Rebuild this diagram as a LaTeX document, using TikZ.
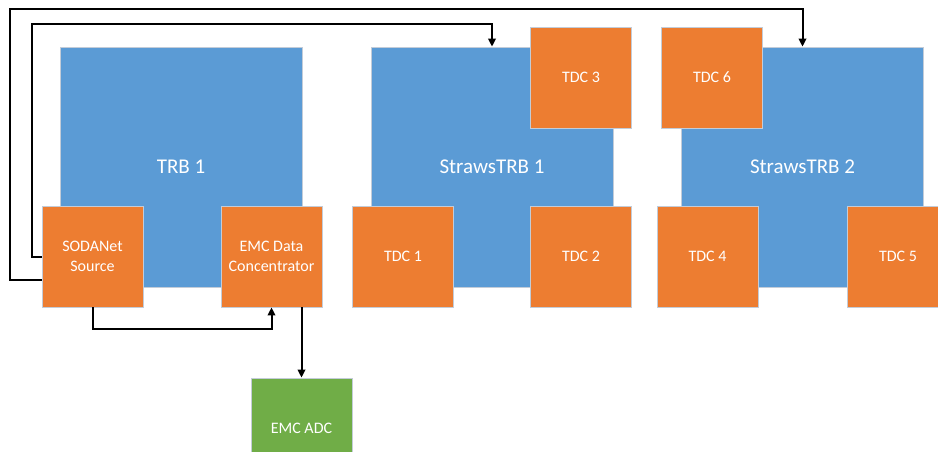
\documentclass[tikz,border=0pt]{standalone}
\usepackage{fontspec}
\setmainfont{Carlito}
\usetikzlibrary{calc,arrows.meta}
\definecolor{bbl}{HTML}{5B9BD5}
\definecolor{orn}{HTML}{ED7D31}
\definecolor{grn}{HTML}{70AD47}
\definecolor{edg}{HTML}{C3CCD8}
\tikzset{
  board/.style={fill=bbl,draw=edg,line width=0.8pt,minimum width=242pt,minimum height=240pt,inner sep=0pt,text=white,font=\fontsize{21}{25}\selectfont},
  chip/.style={fill=orn,draw=edg,line width=0.8pt,minimum width=101pt,minimum height=101pt,inner sep=0pt,text=white,align=center,font=\fontsize{16}{20}\selectfont},
  adcbox/.style={chip,fill=grn},
  wire/.style={line width=2pt,draw=black,line join=miter},
  arr/.style={wire,-{Triangle[length=8pt,width=7.5pt]}}
}
\begin{document}
\begin{tikzpicture}[x=1pt,y=-1pt]
\useasboundingbox (0,0) rectangle (938,451);
\fill[white] (0,0) rectangle (938,451);
% boards
\node[board] (trb) at (181,167) {TRB 1};
\node[board] (s1) at (492,167) {StrawsTRB 1};
\node[board] (s2) at (802.5,167) {StrawsTRB 2};
% chips
\node[chip] (soda) at (92.5,256.5) {SODANet\\Source};
\node[chip] (emc) at (271.5,256.5) {EMC Data\\Concentrator};
\node[chip] (tdc3) at (581,77.5) {TDC 3};
\node[chip] (tdc1) at (403,256.5) {TDC 1};
\node[chip] (tdc2) at (581,256.5) {TDC 2};
\node[chip] (tdc6) at (712,77.5) {TDC 6};
\node[chip] (tdc4) at (707.5,256.5) {TDC 4};
\node[chip] (tdc5) at (898,256.5) {TDC 5};
\node[adcbox] (adc) at (301.5,428.5) {EMC ADC};
% connectors
\draw[arr] (soda.west) -- ++(-10,0) |- ($(s1.north)+(0,-23)$) -- (s1.north);
\draw[arr] ($(soda.west)+(0,23.5)$) -- ++(-32,0) |- ($(s2.north)+(0,-38)$) -- (s2.north);
\draw[arr] (soda.south) -- ++(0,22) -| (emc.south);
\draw[arr] (adc.north |- emc.south) -- (adc.north);
\end{tikzpicture}
\end{document}
